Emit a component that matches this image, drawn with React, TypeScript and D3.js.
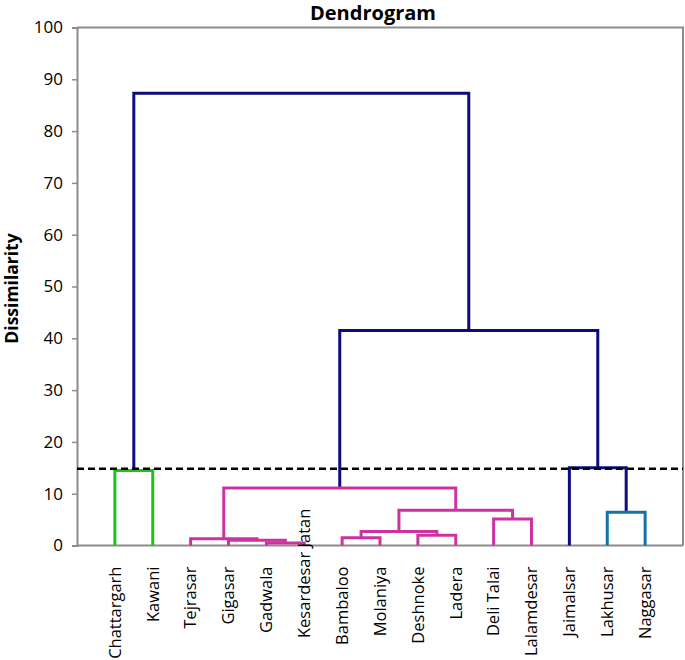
import React, { useEffect, useRef } from 'react';
import * as d3 from 'd3';

const WIDTH = 685;
const HEIGHT = 660;

// leaf order along the x axis
const LEAVES = [
    'Chattargarh', 'Kawani', 'Tejrasar', 'Gigasar', 'Gadwala', 'Kesardesar Jatan',
    'Bambaloo', 'Molaniya', 'Deshnoke', 'Ladera', 'Deli Talai', 'Lalamdesar',
    'Jaimalsar', 'Lakhusar', 'Naggasar',
];

// agglomeration steps: merge k creates node `m${k + 1}`
const MERGE_PAIRS = [
    ['Gadwala', 'Kesardesar Jatan'],
    ['Gigasar', 'm1'],
    ['Tejrasar', 'm2'],
    ['Bambaloo', 'Molaniya'],
    ['Deshnoke', 'Ladera'],
    ['m4', 'm5'],
    ['Deli Talai', 'Lalamdesar'],
    ['m6', 'm7'],
    ['m3', 'm8'],
    ['Lakhusar', 'Naggasar'],
    ['Chattargarh', 'Kawani'],
    ['Jaimalsar', 'm10'],
    ['m9', 'm12'],
    ['m11', 'm13'],
];
const MERGE_HEIGHTS = [0.5, 1.0, 1.3, 1.5, 2.0, 2.7, 5.1, 6.8, 11.1, 6.4, 14.5, 15.0, 41.5, 87.3];

const CUT_LEVEL = 14.8;
const Y_TICKS = [0, 10, 20, 30, 40, 50, 60, 70, 80, 90, 100];

const NAVY = '#0c0c7e';
const CLUSTER_COLORS = ['#1ec21e', '#cc33a0', '#1572a8'];
const AXIS_COLOR = '#8c8c8c';
const FONT = '"Open Sans", "Noto Sans", sans-serif';

const M = { left: 77, right: 2, top: 27.5, bottom: 114.5 };

const buildTree = () => {
    const nodes = {};
    LEAVES.forEach((name, i) => {
        nodes[name] = { name, height: 0, x: i + 1, leaf: true };
    });
    MERGE_PAIRS.forEach(([a, b], k) => {
        const l = nodes[a];
        const r = nodes[b];
        const name = `m${k + 1}`;
        nodes[name] = { name, height: MERGE_HEIGHTS[k], x: (l.x + r.x) / 2, children: [l, r] };
    });
    return nodes[`m${MERGE_PAIRS.length}`];
};

const Dendrogram = () => {
    const svgRef = useRef(null);

    useEffect(() => {
        const svg = d3.select(svgRef.current);
        svg.selectAll('*').remove();

        const x = d3.scaleLinear().domain([0, LEAVES.length + 1]).range([M.left, WIDTH - M.right]);
        const y = d3.scaleLinear().domain([0, 100]).range([HEIGHT - M.bottom, M.top]);

        const root = d3.hierarchy(buildTree());

        // assign colours: clusters below the cut get their own colour
        let clusterIdx = 0;
        root.each(node => {
            const d = node.data;
            if (node.parent && node.parent.data.height >= CUT_LEVEL && d.height < CUT_LEVEL && node.children) {
                d.color = CLUSTER_COLORS[clusterIdx++ % CLUSTER_COLORS.length];
            } else if (d.height >= CUT_LEVEL) {
                d.color = NAVY;
            } else if (node.parent) {
                d.color = node.parent.data.color;
            }
        });

        // plot frame
        svg.append('path')
            .attr('d', `M${x(0)},${y(100)}H${x(LEAVES.length + 1)}V${y(0)}`)
            .attr('fill', 'none')
            .attr('stroke', AXIS_COLOR)
            .attr('stroke-width', 2);

        // y axis
        const yAxis = svg.append('g')
            .attr('transform', `translate(${x(0)},0)`)
            .call(d3.axisLeft(y).tickValues(Y_TICKS).tickSize(5).tickPadding(9));
        yAxis.select('.domain').attr('stroke', AXIS_COLOR).attr('stroke-width', 2);
        yAxis.selectAll('.tick line').attr('stroke', AXIS_COLOR).attr('stroke-width', 1.5);
        yAxis.selectAll('.tick text')
            .attr('fill', '#000')
            .style('font-family', FONT)
            .style('font-size', '17px');

        // bottom axis line
        svg.append('line')
            .attr('x1', x(0)).attr('x2', x(LEAVES.length + 1))
            .attr('y1', y(0)).attr('y2', y(0))
            .attr('stroke', AXIS_COLOR)
            .attr('stroke-width', 2);

        // links
        const merges = root.descendants().filter(n => n.children);
        svg.append('g')
            .selectAll('path')
            .data(merges)
            .join('path')
            .attr('d', n => {
                const [l, r] = n.children.map(c => c.data);
                return `M${x(l.x)},${y(l.height)}V${y(n.data.height)}H${x(r.x)}V${y(r.height)}`;
            })
            .attr('fill', 'none')
            .attr('stroke', n => n.data.color)
            .attr('stroke-width', 3);

        // truncation line
        svg.append('line')
            .attr('x1', x(0)).attr('x2', x(LEAVES.length + 1))
            .attr('y1', y(CUT_LEVEL)).attr('y2', y(CUT_LEVEL))
            .attr('stroke', '#000')
            .attr('stroke-width', 2.5)
            .attr('stroke-dasharray', '7,4');

        // leaf labels, rotated
        const labelTop = y(0) + 21;
        const labels = svg.append('g')
            .selectAll('text')
            .data(LEAVES)
            .join('text')
            .attr('text-anchor', 'end')
            .attr('dy', '0.35em')
            .style('font-family', FONT)
            .style('font-size', '16.5px')
            .text(d => d);
        labels.attr('transform', function (d, i) {
            const len = this.getComputedTextLength();
            // labels that would run off the bottom get pulled up
            const top = labelTop + len > HEIGHT - 1 ? 638 - len : labelTop;
            return `translate(${x(i + 1)},${top}) rotate(-90)`;
        });

        // title & axis label
        svg.append('text')
            .attr('x', 373).attr('y', 20)
            .attr('text-anchor', 'middle')
            .style('font-family', FONT)
            .style('font-weight', 'bold')
            .style('font-size', '20px')
            .text('Dendrogram');

        svg.append('text')
            .attr('transform', `translate(12,${(y(0) + y(100)) / 2 + 2}) rotate(-90)`)
            .attr('text-anchor', 'middle')
            .attr('dy', '0.35em')
            .style('font-family', FONT)
            .style('font-weight', 'bold')
            .style('font-size', '17.5px')
            .text('Dissimilarity');
    }, []);

    return (
        <svg ref={svgRef}
            width={WIDTH}
            height={HEIGHT}
            style={{ position: 'absolute', left: 0, top: 0, background: '#fff' }} />
    );
};

const App = () => <Dendrogram />;

export default App;
